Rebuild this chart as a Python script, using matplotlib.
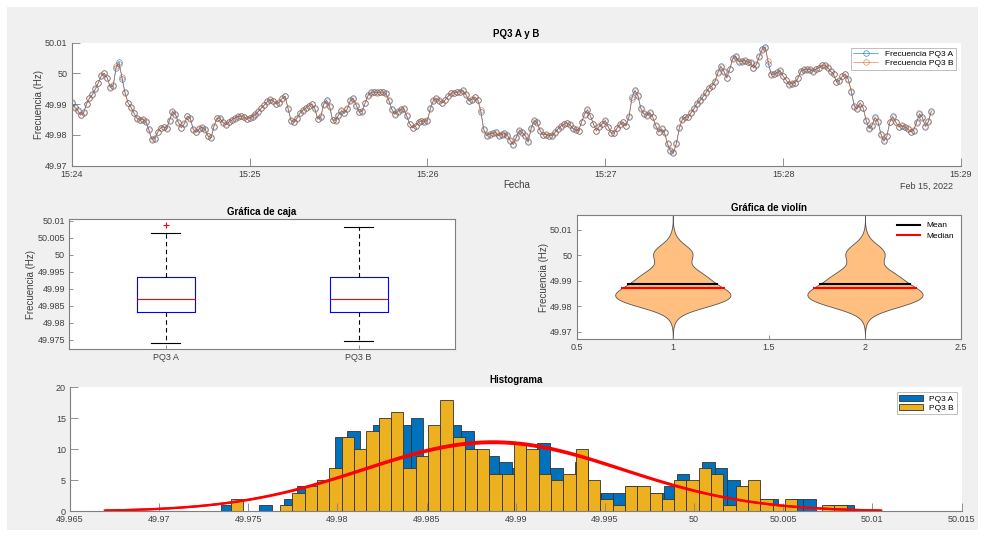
import numpy as np
import matplotlib
matplotlib.use('Agg')
import matplotlib.pyplot as plt
import matplotlib.dates as mdates
from matplotlib.patches import Rectangle

plt.rcParams['font.family'] = ['Liberation Sans', 'DejaVu Sans']

# frecuencia PQ3, one reading per second from 15:24:00 (Feb 15, 2022)
freq_a = [
    49.9903, 49.9891, 49.9881, 49.9864, 49.9873, 49.9900, 49.9919, 49.9932, 49.9949, 49.9970,
    49.9992, 50.0000, 49.9986, 49.9956, 49.9959, 50.0019, 50.0038, 49.9981, 49.9938, 49.9905,
    49.9891, 49.9870, 49.9855, 49.9848, 49.9850, 49.9843, 49.9819, 49.9787, 49.9787, 49.9808,
    49.9822, 49.9827, 49.9822, 49.9846, 49.9876, 49.9868, 49.9841, 49.9824, 49.9835, 49.9860,
    49.9855, 49.9819, 49.9808, 49.9819, 49.9824, 49.9819, 49.9797, 49.9790, 49.9827, 49.9854,
    49.9855, 49.9841, 49.9833, 49.9841, 49.9848, 49.9855, 49.9859, 49.9862, 49.9859, 49.9851,
    49.9854, 49.9859, 49.9868, 49.9876, 49.9887, 49.9898, 49.9909, 49.9914, 49.9911, 49.9900,
    49.9905, 49.9919, 49.9927, 49.9884, 49.9846, 49.9841, 49.9855, 49.9870, 49.9881, 49.9887,
    49.9895, 49.9900, 49.9887, 49.9851, 49.9857, 49.9900, 49.9913, 49.9895, 49.9848, 49.9848,
    49.9865, 49.9878, 49.9870, 49.9884, 49.9913, 49.9919, 49.9895, 49.9873, 49.9878, 49.9905,
    49.9930, 49.9938, 49.9939, 49.9938, 49.9938, 49.9940, 49.9935, 49.9911, 49.9884, 49.9868,
    49.9876, 49.9884, 49.9884, 49.9862, 49.9837, 49.9822, 49.9830, 49.9841, 49.9846, 49.9843,
    49.9846, 49.9887, 49.9911, 49.9919, 49.9911, 49.9905, 49.9913, 49.9927, 49.9935, 49.9937,
    49.9938, 49.9941, 49.9945, 49.9930, 49.9911, 49.9915, 49.9924, 49.9913, 49.9876, 49.9819,
    49.9797, 49.9803, 49.9805, 49.9808, 49.9797, 49.9801, 49.9805, 49.9800, 49.9779, 49.9768,
    49.9794, 49.9814, 49.9808, 49.9797, 49.9776, 49.9822, 49.9846, 49.9841, 49.9814, 49.9801,
    49.9801, 49.9798, 49.9797, 49.9808, 49.9818, 49.9829, 49.9834, 49.9840, 49.9833, 49.9822,
    49.9816, 49.9814, 49.9841, 49.9868, 49.9881, 49.9862, 49.9835, 49.9814, 49.9827, 49.9837,
    49.9846, 49.9827, 49.9805, 49.9807, 49.9822, 49.9835, 49.9841, 49.9830, 49.9857, 49.9922,
    49.9945, 49.9927, 49.9887, 49.9868, 49.9865, 49.9872, 49.9859, 49.9830, 49.9810, 49.9819,
    49.9808, 49.9770, 49.9747, 49.9740, 49.9773, 49.9822, 49.9851, 49.9857, 49.9859, 49.9872,
    49.9887, 49.9902, 49.9913, 49.9924, 49.9938, 49.9952, 49.9960, 49.9973, 50.0003, 50.0024,
    50.0006, 49.9986, 50.0013, 50.0049, 50.0057, 50.0038, 50.0040, 50.0041, 50.0038, 50.0034,
    50.0019, 50.0028, 50.0057, 50.0081, 50.0086, 50.0030, 49.9997, 49.9997, 50.0003, 50.0008,
    49.9992, 49.9978, 49.9965, 49.9967, 49.9970, 49.9984, 50.0008, 50.0011, 50.0013, 50.0012,
    50.0008, 50.0013, 50.0019, 50.0026, 50.0027, 50.0019, 50.0008, 49.9997, 49.9973, 49.9976,
    49.9992, 49.9997, 49.9981, 49.9941, 49.9895, 49.9884, 49.9905, 49.9887, 49.9846, 49.9822,
    49.9830, 49.9857, 49.9843, 49.9803, 49.9779, 49.9797, 49.9841, 49.9860, 49.9841, 49.9827,
    49.9829, 49.9827, 49.9819, 49.9811, 49.9814, 49.9841, 49.9868, 49.9857, 49.9827, 49.9844,
    49.9878,
]
freq_b = [
    49.9906, 49.9888, 49.9878, 49.9866, 49.9870, 49.9902, 49.9921, 49.9930, 49.9951, 49.9968,
    49.9994, 50.0001, 49.9984, 49.9954, 49.9962, 50.0024, 50.0030, 49.9988, 49.9935, 49.9903,
    49.9889, 49.9872, 49.9853, 49.9850, 49.9852, 49.9845, 49.9816, 49.9784, 49.9790, 49.9811,
    49.9824, 49.9825, 49.9820, 49.9848, 49.9878, 49.9866, 49.9838, 49.9822, 49.9838, 49.9862,
    49.9852, 49.9816, 49.9810, 49.9821, 49.9826, 49.9817, 49.9795, 49.9792, 49.9830, 49.9856,
    49.9853, 49.9839, 49.9835, 49.9843, 49.9850, 49.9853, 49.9861, 49.9860, 49.9857, 49.9853,
    49.9856, 49.9861, 49.9866, 49.9878, 49.9889, 49.9896, 49.9907, 49.9916, 49.9909, 49.9902,
    49.9907, 49.9917, 49.9925, 49.9888, 49.9848, 49.9843, 49.9853, 49.9872, 49.9879, 49.9889,
    49.9893, 49.9902, 49.9884, 49.9853, 49.9860, 49.9898, 49.9911, 49.9892, 49.9850, 49.9846,
    49.9863, 49.9880, 49.9872, 49.9886, 49.9911, 49.9917, 49.9898, 49.9875, 49.9876, 49.9903,
    49.9928, 49.9936, 49.9941, 49.9936, 49.9940, 49.9938, 49.9933, 49.9914, 49.9882, 49.9866,
    49.9878, 49.9882, 49.9886, 49.9864, 49.9835, 49.9824, 49.9828, 49.9843, 49.9844, 49.9845,
    49.9848, 49.9884, 49.9913, 49.9917, 49.9913, 49.9903, 49.9915, 49.9925, 49.9937, 49.9935,
    49.9940, 49.9939, 49.9943, 49.9932, 49.9909, 49.9917, 49.9922, 49.9915, 49.9880, 49.9815,
    49.9799, 49.9801, 49.9807, 49.9806, 49.9799, 49.9803, 49.9803, 49.9798, 49.9782, 49.9772,
    49.9791, 49.9816, 49.9806, 49.9799, 49.9779, 49.9819, 49.9848, 49.9839, 49.9816, 49.9799,
    49.9803, 49.9796, 49.9799, 49.9806, 49.9820, 49.9827, 49.9836, 49.9838, 49.9835, 49.9820,
    49.9818, 49.9812, 49.9843, 49.9866, 49.9883, 49.9860, 49.9837, 49.9812, 49.9829, 49.9835,
    49.9848, 49.9825, 49.9807, 49.9805, 49.9824, 49.9833, 49.9843, 49.9828, 49.9860, 49.9918,
    49.9943, 49.9929, 49.9885, 49.9870, 49.9863, 49.9874, 49.9857, 49.9832, 49.9808, 49.9821,
    49.9806, 49.9773, 49.9750, 49.9745, 49.9770, 49.9825, 49.9849, 49.9859, 49.9857, 49.9874,
    49.9885, 49.9904, 49.9911, 49.9926, 49.9936, 49.9954, 49.9958, 49.9975, 50.0001, 50.0022,
    50.0008, 49.9984, 50.0015, 50.0046, 50.0054, 50.0040, 50.0038, 50.0043, 50.0036, 50.0036,
    50.0017, 50.0030, 50.0054, 50.0077, 50.0083, 50.0040, 49.9995, 49.9999, 50.0001, 50.0010,
    49.9990, 49.9980, 49.9963, 49.9969, 49.9968, 49.9986, 50.0006, 50.0013, 50.0011, 50.0014,
    50.0006, 50.0015, 50.0017, 50.0028, 50.0025, 50.0021, 50.0006, 49.9999, 49.9971, 49.9978,
    49.9990, 49.9999, 49.9979, 49.9944, 49.9892, 49.9886, 49.9903, 49.9889, 49.9850, 49.9820,
    49.9832, 49.9855, 49.9845, 49.9800, 49.9782, 49.9795, 49.9843, 49.9858, 49.9843, 49.9825,
    49.9831, 49.9825, 49.9821, 49.9809, 49.9816, 49.9839, 49.9870, 49.9855, 49.9829, 49.9842,
    49.9876,
]

# box plot statistics
box_labels = ['PQ3 A', 'PQ3 B']
box_q1 = [49.9831, 49.9831]
box_med = [49.9870, 49.9869]
box_q3 = [49.9934, 49.9934]
box_lo = [49.9741, 49.9746]
box_hi = [50.0065, 50.0083]
box_out = [[50.0088], []]

# histogram counts (50 bins each)
hist_a = [1, 0, 0, 1, 0, 2, 4, 3, 4, 12, 13, 9, 14, 13, 14, 15, 6, 12, 14, 13,
          8, 9, 8, 7, 9, 11, 7, 4, 8, 3, 3, 3, 4, 3, 3, 4, 6, 4, 8, 7,
          5, 4, 2, 2, 1, 2, 2, 0, 1, 1]
hist_b = [2, 0, 0, 0, 1, 3, 4, 5, 7, 12, 10, 13, 15, 16, 7, 9, 14, 18, 12, 10,
          10, 6, 6, 11, 10, 6, 5, 6, 10, 5, 2, 1, 4, 4, 3, 2, 5, 5, 7, 6,
          1, 4, 5, 2, 1, 2, 0, 0, 1, 1]
hist_a_range = (49.97346, 50.00896)
hist_b_range = (49.97402, 50.00855)

c_blue = '#0072BD'
c_orange = '#D95319'
c_yellow = '#EDB120'
spine = '#7f7f7f'
lab = '#404040'


def style(ax, box=True, ticklen=3):
    for s in ax.spines.values():
        s.set_color(spine)
        s.set_linewidth(0.8)
    if not box:
        ax.spines['top'].set_visible(False)
        ax.spines['right'].set_visible(False)
    ax.tick_params(direction='in', length=ticklen, width=0.6, color=spine,
                   labelsize=6.5, labelcolor=lab, pad=3)


def kde(vals):
    v = np.asarray(vals)
    sig = np.median(np.abs(v - np.median(v))) / 0.6745
    bw = sig * (4 / (3 * len(v))) ** 0.2
    u = np.linspace(v.min() - 3 * bw, v.max() + 3 * bw, 100)
    f = np.exp(-0.5 * ((u[:, None] - v[None, :]) / bw) ** 2).sum(axis=1)
    return u, f / f.max() * 0.3


fig = plt.figure(figsize=(9.85, 5.36), dpi=100, facecolor='white')
fig.patches.append(Rectangle((7 / 985, 6 / 536), 971 / 985, 523 / 536,
                             transform=fig.transFigure, facecolor='#f0f0f0',
                             edgecolor='none', zorder=-10))

# ---- time series
ax1 = fig.add_axes([0.0728, 0.6909, 0.9028, 0.2295])
start = np.datetime64('2022-02-15T15:24:00')
times = start + np.arange(len(freq_a)).astype('timedelta64[s]')
ax1.plot(times, freq_a, '-o', color=c_blue, lw=0.5, ms=4, mfc='none', mew=0.5,
         alpha=0.8, label='Frecuencia PQ3 A')
ax1.plot(times, freq_b, '-o', color=c_orange, lw=0.5, ms=4, mfc='none', mew=0.5,
         alpha=0.7, label='Frecuencia PQ3 B')
ax1.set_xlim(np.datetime64('2022-02-15T15:24:00'), np.datetime64('2022-02-15T15:29:00'))
ax1.set_ylim(49.97, 50.01)
ax1.set_yticks([49.97, 49.98, 49.99, 50.0, 50.01])
ax1.set_yticklabels(['49.97', '49.98', '49.99', '50', '50.01'])
ax1.xaxis.set_major_locator(mdates.MinuteLocator())
ax1.xaxis.set_major_formatter(mdates.DateFormatter('%H:%M'))
style(ax1, box=False, ticklen=6)
ax1.set_title('PQ3 A y B', fontsize=7, fontweight='bold', color='black', pad=4)
ax1.set_xlabel('Fecha', fontsize=7, color=lab, labelpad=1)
ax1.set_ylabel('Frecuencia (Hz)', fontsize=7, color=lab, labelpad=1)
ax1.text(0.991, -0.17, 'Feb 15, 2022', transform=ax1.transAxes, ha='right',
         va='center', fontsize=6.5, color=lab)
leg = ax1.legend(loc='upper right', fontsize=6, frameon=True, fancybox=False,
                 edgecolor='#a0a0a0', handlelength=3.0, borderpad=0.3,
                 labelspacing=0.15, borderaxespad=0.6)
leg.get_frame().set_linewidth(0.6)

# ---- box plot
ax2 = fig.add_axes([0.0701, 0.3489, 0.3919, 0.2420])
stats = []
for i in range(2):
    stats.append(dict(label=box_labels[i], q1=box_q1[i], med=box_med[i], q3=box_q3[i],
                      whislo=box_lo[i], whishi=box_hi[i], fliers=box_out[i]))
ax2.bxp(stats, positions=[1, 2], widths=0.3, showfliers=True,
        boxprops=dict(color='blue', lw=0.8),
        medianprops=dict(color='red', lw=0.8),
        whiskerprops=dict(color='black', lw=0.8, linestyle=(0, (4, 3))),
        capprops=dict(color='black', lw=0.8), capwidths=0.15,
        flierprops=dict(marker='+', markeredgecolor='red', markersize=4, mew=0.8))
ax2.set_xlim(0.5, 2.5)
ax2.set_ylim(49.9723, 50.0105)
bt = [49.975, 49.98, 49.985, 49.99, 49.995, 50.0, 50.005, 50.01]
ax2.set_yticks(bt)
ax2.set_yticklabels(['49.975', '49.98', '49.985', '49.99', '49.995', '50', '50.005', '50.01'])
style(ax2, box=True, ticklen=3)
ax2.set_title('Gráfica de caja', fontsize=7, fontweight='bold', color='black', pad=3)
ax2.set_ylabel('Frecuencia (Hz)', fontsize=7, color=lab, labelpad=1)

# ---- violin plot
ax3 = fig.add_axes([0.5855, 0.3670, 0.3902, 0.2319])
for pos, vals in zip([1, 2], [freq_a, freq_b]):
    u, f = kde(vals)
    ax3.fill_betweenx(u, pos - f, pos + f, facecolor='#FFBF80', edgecolor='#555555', lw=0.6)
    m, md = np.mean(vals), np.median(vals)
    fm, fmd = np.interp(m, u, f), np.interp(md, u, f)
    ax3.plot([pos - fm, pos + fm], [m, m], color='black', lw=1.5,
             label='Mean' if pos == 1 else None)
    ax3.plot([pos - fmd, pos + fmd], [md, md], color='red', lw=1.5,
             label='Median' if pos == 1 else None)
ax3.set_xlim(0.5, 2.5)
ax3.set_ylim(49.967, 50.0158)
ax3.set_xticks([0.5, 1, 1.5, 2, 2.5])
ax3.set_xticklabels(['0.5', '1', '1.5', '2', '2.5'])
ax3.set_yticks([49.97, 49.98, 49.99, 50.0, 50.01])
ax3.set_yticklabels(['49.97', '49.98', '49.99', '50', '50.01'])
style(ax3, box=True, ticklen=3)
ax3.set_title('Gráfica de violín', fontsize=7, fontweight='bold', color='black', pad=3)
ax3.set_ylabel('Frecuencia (Hz)', fontsize=7, color=lab, labelpad=1)
ax3.legend(loc='upper right', fontsize=6, frameon=False, handlelength=2.8,
           labelspacing=0.3, borderaxespad=0.4)

# ---- histogram
ax4 = fig.add_axes([0.0711, 0.0461, 0.9051, 0.2313])
edges_a = np.linspace(hist_a_range[0], hist_a_range[1], len(hist_a) + 1)
edges_b = np.linspace(hist_b_range[0], hist_b_range[1], len(hist_b) + 1)
ax4.bar(edges_a[:-1], hist_a, width=np.diff(edges_a), align='edge', color=c_blue,
        edgecolor='#333333', lw=0.6, label='PQ3 A')
ax4.bar(edges_b[:-1], hist_b, width=np.diff(edges_b), align='edge', color=c_yellow,
        edgecolor='#333333', lw=0.6, label='PQ3 B')
for vals, counts, edges in [(freq_a, hist_a, edges_a), (freq_b, hist_b, edges_b)]:
    mu, sd = np.mean(vals), np.std(vals, ddof=1)
    x = np.linspace(mu - 3 * sd, mu + 3 * sd, 100)
    y = np.sum(counts) * (edges[1] - edges[0]) * np.exp(-0.5 * ((x - mu) / sd) ** 2) / (sd * np.sqrt(2 * np.pi))
    ax4.plot(x, y, color='red', lw=1.6)
ax4.set_xlim(49.965, 50.015)
ax4.set_ylim(0, 20)
ht = [49.965, 49.97, 49.975, 49.98, 49.985, 49.99, 49.995, 50.0, 50.005, 50.01, 50.015]
ax4.set_xticks(ht)
ax4.set_xticklabels(['49.965', '49.97', '49.975', '49.98', '49.985', '49.99', '49.995',
                     '50', '50.005', '50.01', '50.015'])
ax4.set_yticks([0, 5, 10, 15, 20])
style(ax4, box=False, ticklen=6)
ax4.set_title('Histograma', fontsize=7, fontweight='bold', color='black', pad=3)
leg4 = ax4.legend(loc='upper right', fontsize=6, frameon=True, fancybox=False,
                  edgecolor='#a0a0a0', handlelength=2.8, borderpad=0.3,
                  labelspacing=0.15, borderaxespad=0.6)
leg4.get_frame().set_linewidth(0.6)

fig.savefig('out.png', dpi=100, facecolor='white')
